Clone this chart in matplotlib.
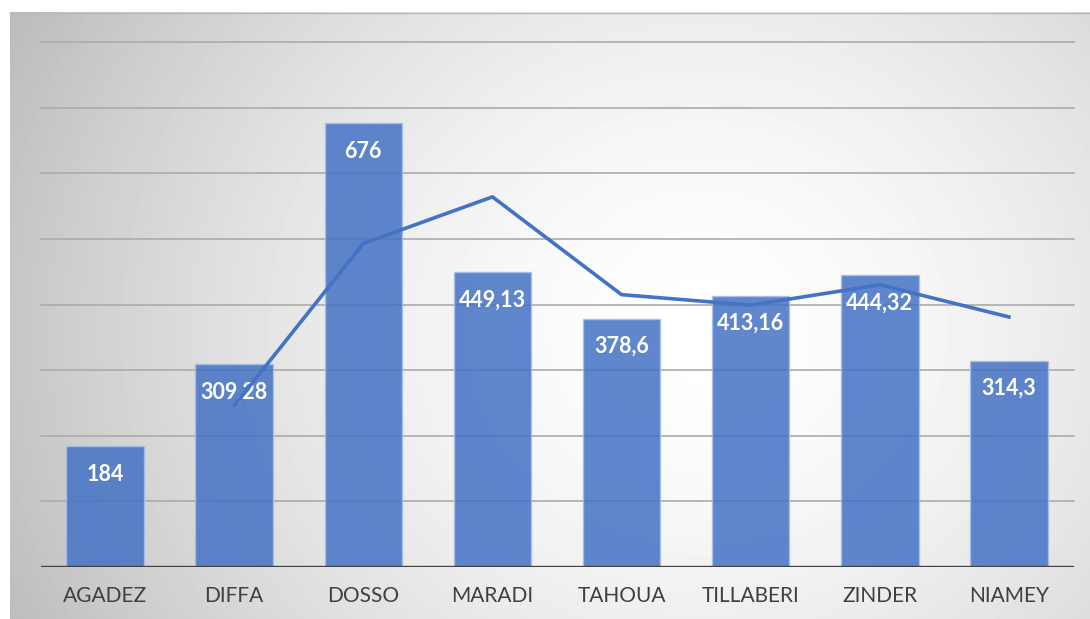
import matplotlib.pyplot as plt
import numpy as np

# regions and values
regions = ["AGADEZ", "DIFFA", "DOSSO", "MARADI", "TAHOUA", "TILLABERI", "ZINDER", "NIAMEY"]
bar_values = [184, 309.28, 676, 449.13, 378.6, 413.16, 444.32, 314.3]
bar_labels = ["184", "309,28", "676", "449,13", "378,6", "413,16", "444,32", "314,3"]
line_values = [np.nan, 246, 493, 564, 415, 399, 430, 381]

W, H = 1090, 619
fig = plt.figure(figsize=(W / 100, H / 100), dpi=100)

# background: radial grey gradient inside a frame
bg = fig.add_axes([0, 0, 1, 1])
bg.set_xlim(0, W)
bg.set_ylim(H, 0)
bg.axis("off")
yy, xx = np.mgrid[12:H, 10:W]
r = np.hypot(xx - 700, (yy - 330) * 1.1)
grey = 1 - 0.25 * np.clip(r / 742, 0, 1.2) ** 1.6
bg.imshow(grey, cmap="gray", vmin=0, vmax=1, extent=[10, W, H, 12],
          interpolation="bilinear", aspect="auto")
bg.plot([10, W], [12.5, 12.5], color="#b8b8b8", lw=1)

ax = fig.add_axes([40.5 / W, 52 / H, (1073.5 - 40.5) / W, 525 / H])
ax.patch.set_alpha(0)
x = np.arange(len(regions))

ax.set_ylim(0, 800)
ax.set_xlim(-0.5, len(regions) - 0.5)
for g in range(100, 801, 100):
    ax.axhline(g, color="#ababab", lw=1.2, zorder=1, clip_on=False)

ax.bar(x, bar_values, width=0.6, color="#4472c4", alpha=0.85,
       edgecolor="#a9bfe6", linewidth=1, zorder=2)

for i, v in enumerate(bar_values):
    ax.annotate(bar_labels[i], (x[i], v), xytext=(0, -20), textcoords="offset points",
                ha="center", va="center", color="white", fontsize=15.5,
                fontweight="bold", family="Lato", zorder=3)

ax.plot(x, line_values, color="#4472c4", lw=2.6, zorder=4)

ax.axhline(0, color="#404040", lw=2.4, zorder=5)

for s in ["top", "right", "left", "bottom"]:
    ax.spines[s].set_visible(False)
ax.set_yticks([])
ax.set_xticks(x)
ax.set_xticklabels(regions, fontsize=15, color="#404040", family="Lato")
ax.tick_params(axis="x", length=0, pad=14)

fig.savefig("out.png", dpi=100)
